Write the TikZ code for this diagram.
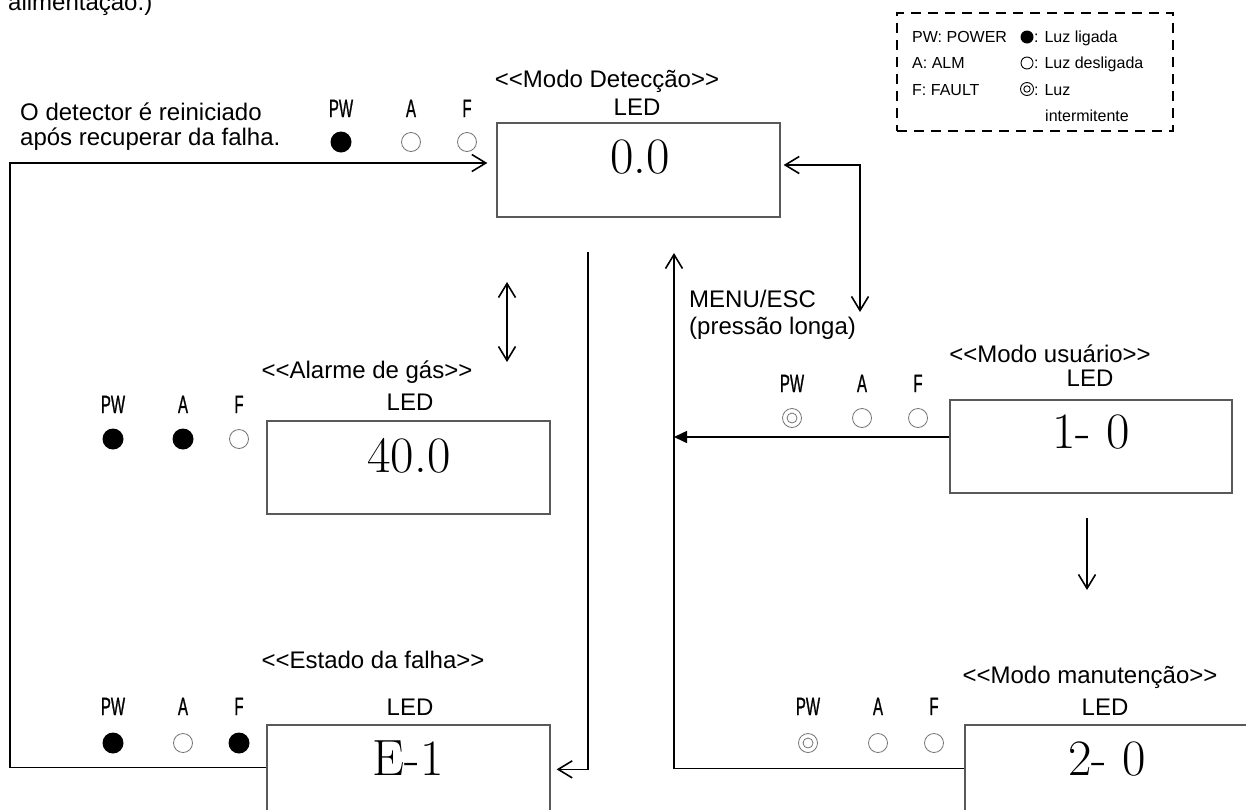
\documentclass[tikz,border=0pt]{standalone}
\usepackage{graphicx}
\usepackage{fontspec}
\newfontfamily\arialf{Liberation Sans}
\newfontfamily\ledf[FakeBold=1.2]{Liberation Sans}
\usetikzlibrary{arrows.meta,calc}
\newcommand\ledtext[1]{\scalebox{0.6}[1]{#1}}
\tikzset{
  conn/.style={line width=1.6pt, black},
  dispbox/.style={draw=black!65, line width=1.3pt, inner sep=0pt},
  lbl/.style={font=\arialf\fontsize{24}{28}\selectfont, inner sep=0pt, anchor=base},
  lgd/.style={font=\arialf\fontsize{16}{19}\selectfont, inner sep=0pt, anchor=base west},
  digits/.style={font=\fontsize{51}{60}\selectfont, inner sep=0pt, anchor=base},
  ledlbl/.style={font=\ledf\fontsize{25}{28}\selectfont, inner sep=0pt, anchor=base},
  ledon/.style={circle, fill=black, minimum size=21pt, inner sep=0pt},
  ledoff/.style={circle, draw=black!55, line width=0.8pt, fill=white, minimum size=19pt, inner sep=0pt},
  ledblink/.style={ledoff, path picture={\draw[black!55, line width=0.8pt] (path picture bounding box.center) circle (5pt);}},
}
\newcommand\ledgroup[7]{%
  \node[ledlbl] (#1pwl) at (#2,#3) {\ledtext{PW}};
  \node[ledlbl] (#1al) at (#2+70,#3) {\ledtext{A}};
  \node[ledlbl] (#1fl) at (#2+126,#3) {\ledtext{F}};
  \node[#5] (#1pw) at (#2,#4) {};
  \node[#6] (#1a) at (#2+70,#4) {};
  \node[#7] (#1f) at (#2+126,#4) {};
}
\begin{document}
\begin{tikzpicture}[x=1pt,y=-1pt, >={Straight Barb[length=14pt,width=17pt]}]
\useasboundingbox (0,0) rectangle (1246,809);
\fill[white] (0,0) rectangle (1246,809);

% header text
\node[lbl, anchor=base west] (alim) at (8,10) {alimentação.)};
\node[lbl, anchor=base west] (rein1) at (20,120) {O detector é reiniciado};
\node[lbl, anchor=base west] (rein2) at (20,145) {após recuperar da falha.};

% legend
\node[draw, line width=2pt, dash pattern=on 10pt off 7pt, minimum width=276pt, minimum height=118pt, inner sep=0pt] (legend) at (1035,72) {};
\node[lgd] (lg1) at (912,42) {PW: POWER};
\node[lgd] (lg2) at (912,68) {A: ALM};
\node[lgd] (lg3) at (912,95) {F: FAULT};
\node[circle, fill=black, minimum size=13pt, inner sep=0pt] (ls1) at (1027,37) {};
\node[circle, draw=black, line width=0.9pt, minimum size=12pt, inner sep=0pt] (ls2) at (1027,63) {};
\node[circle, draw=black, line width=0.9pt, minimum size=13pt, inner sep=0pt,
  path picture={\draw[black, line width=0.9pt] (path picture bounding box.center) circle (3.2pt);}] (ls3) at (1027,89) {};
\node[lgd] (lt1) at (1034,42) {: Luz ligada};
\node[lgd] (lt2) at (1034,68) {: Luz desligada};
\node[lgd] (lt3) at (1034,95) {: Luz};
\node[lgd] (lt4) at (1045,121) {intermitente};

% detection mode
\node[lbl] (dett) at (607,87) {<{}<Modo Detecção>{}>};
\node[lbl] (detled) at (637,115) {LED};
\node[dispbox, minimum width=283pt, minimum height=94pt] (det) at (638.5,170) {};
\node[digits] (detv) at (640,173) {0.0};
\ledgroup{top}{341}{117}{142}{ledon}{ledoff}{ledoff}

% gas alarm
\node[lbl] (alt) at (367,378) {<{}<Alarme de gás>{}>};
\node[lbl] (alled) at (410,410) {LED};
\node[dispbox, minimum width=283pt, minimum height=93pt] (alarm) at (408.5,467.5) {};
\node[digits] (alv) at (409,472) {40.0};
\ledgroup{al}{113}{413}{439}{ledon}{ledon}{ledoff}

% fault state
\node[lbl] (ft) at (373,668) {<{}<Estado da falha>{}>};
\node[lbl] (fled) at (410,715) {LED};
\node[dispbox, minimum width=283pt, minimum height=94pt] (fault) at (408.5,772) {};
\node[digits] (fv) at (408,775) {E-1};
\ledgroup{fa}{113}{715}{743}{ledon}{ledoff}{ledon}

% user mode
\node[lbl] (ut) at (1050,362) {<{}<Modo usuário>{}>};
\node[lbl] (uled) at (1090,386) {LED};
\node[dispbox, minimum width=282pt, minimum height=93pt] (user) at (1091,446.5) {};
\node[digits] (uv) at (1091,448) {1- 0};
\ledgroup{us}{792}{392}{418}{ledblink}{ledoff}{ledoff}

% maintenance mode
\node[lbl] (mt) at (1090,683) {<{}<Modo manutenção>{}>};
\node[lbl] (mled) at (1105,715) {LED};
\node[dispbox, minimum width=282pt, minimum height=94pt] (maint) at (1106,772) {};
\node[digits] (mv) at (1107,775) {2- 0};
\ledgroup{ma}{808}{715}{743}{ledblink}{ledoff}{ledoff}

% MENU/ESC label
\node[lbl, anchor=base west] (menu1) at (689,307) {MENU/ESC};
\node[lbl, anchor=base west] (menu2) at (689,334) {(pressão longa)};

% connectors
\coordinate (lc) at (10,163);
\draw[conn,->, shorten >=9pt] ([yshift=-43pt]fault.north west) -| (lc) -- ([yshift=7pt]det.west);
\coordinate (ua) at (860,312);
\draw[conn,<->, shorten <=3pt] ([yshift=5pt]det.east) -| (ua);
\coordinate (da) at (507,282);
\coordinate (db) at (507,362);
\draw[conn,<->] (da) -- (db);
\coordinate (m1) at (588,252);
\draw[conn,->, shorten >=6pt] (m1) |- ([yshift=-45pt]fault.north east);
\coordinate (u1) at (674,253);
\draw[conn,->] ([yshift=-44pt]maint.north west) -| (u1);
\coordinate (uw) at ([yshift=9.5pt]user.west);
\draw[conn,-{Triangle[length=13pt,width=12pt]}] (uw) -- (uw -| u1);
\coordinate (d1) at (1087,518);
\coordinate (d2) at (1087,590);
\draw[conn,->] (d1) -- (d2);
\end{tikzpicture}
\end{document}
